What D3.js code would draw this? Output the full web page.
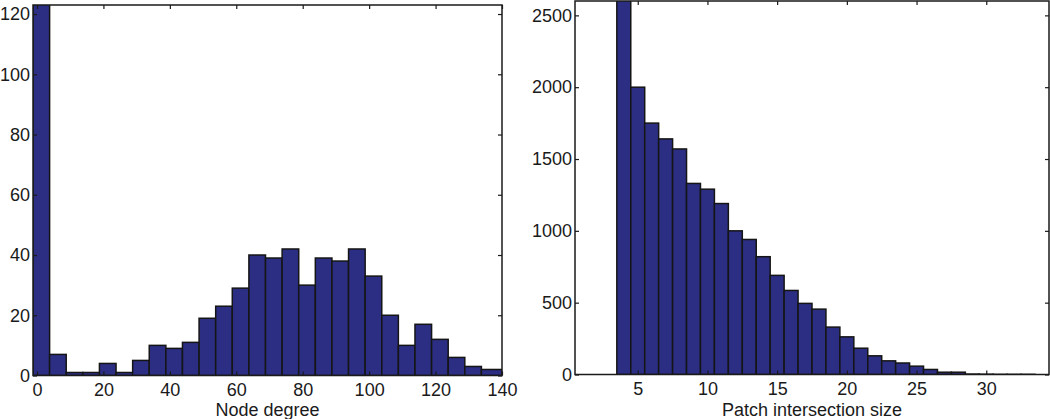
<!DOCTYPE html>
<html><head><meta charset="utf-8">
<script src="https://cdn.jsdelivr.net/npm/d3@7/dist/d3.min.js"></script>
<style>
body{margin:0;background:#fff;}
svg{display:block;font-family:"Liberation Sans",Arial,sans-serif;}
.tick text{font-size:18px;fill:#1a1a1a;}
</style></head>
<body>
<svg id="c" width="1050" height="419"></svg>
<script>
// ---- Left histogram: node degree ----
const degreeFirstEdge = -1.2;
const degreeBinWidth = 5;
const degreeCounts = [150, 7, 1, 1, 4, 1, 5, 10, 9, 11, 19, 23, 29, 40, 39, 42, 30, 39, 38, 42, 33, 20, 10, 17, 12, 6, 3, 2];
const degreeXDomain = [-1.2, 140];
const degreeYDomain = [0, 123];
const degreeXTicks = [0, 20, 40, 60, 80, 100, 120, 140];
const degreeYTicks = [0, 20, 40, 60, 80, 100, 120];

// ---- Right histogram: patch intersection size ----
const patchSizes = [4, 5, 6, 7, 8, 9, 10, 11, 12, 13, 14, 15, 16, 17, 18, 19, 20, 21, 22, 23, 24, 25, 26, 27, 28, 29, 30, 31, 32, 33];
const patchCounts = [3500, 2000, 1750, 1640, 1570, 1330, 1290, 1190, 1000, 940, 820, 690, 585, 495, 455, 330, 262, 183, 130, 95, 80, 58, 35, 16, 16, 3, 2, 1, 1, 1];
const patchXDomain = [0.5, 34.5];
const patchYDomain = [0, 2600];
const patchXTicks = [5, 10, 15, 20, 25, 30];
const patchYTicks = [0, 500, 1000, 1500, 2000, 2500];

const FILL = "#2c2e83", EDGE = "#151515", AX = "#1a1a1a";
const svg = d3.select("#c");

function panel(id, box, xDom, yDom, xT, yT, bars, title) {
  const x = d3.scaleLinear().domain(xDom).range([box.l, box.r]);
  const y = d3.scaleLinear().domain(yDom).range([box.b, box.t]);
  svg.append("clipPath").attr("id", id).append("rect")
    .attr("x", box.l).attr("y", box.t).attr("width", box.r - box.l).attr("height", box.b - box.t);
  svg.append("g").attr("clip-path", `url(#${id})`).selectAll("rect").data(bars).join("rect")
    .attr("x", d => x(d.x0)).attr("width", d => x(d.x1) - x(d.x0))
    .attr("y", d => y(d.v)).attr("height", d => y(0) - y(d.v))
    .attr("fill", FILL).attr("stroke", EDGE).attr("stroke-width", 1.5);
  const style = g => { g.select(".domain").remove(); g.selectAll(".tick line").attr("stroke", AX).attr("stroke-width", 1.2); };
  svg.append("g").attr("transform", `translate(0,${box.b})`)
    .call(d3.axisBottom(x).tickValues(xT).tickSize(-4).tickPadding(7.5).tickFormat(d3.format("d"))).call(style)
    .selectAll("text").attr("dy", "0.71em");
  svg.append("g").attr("transform", `translate(0,${box.t})`)
    .call(d3.axisTop(x).tickValues(xT).tickSize(-4).tickFormat("")).call(style);
  svg.append("g").attr("transform", `translate(${box.l},0)`)
    .call(d3.axisLeft(y).tickValues(yT).tickSize(-4).tickPadding(3).tickFormat(d3.format("d"))).call(style);
  svg.append("g").attr("transform", `translate(${box.r},0)`)
    .call(d3.axisRight(y).tickValues(yT).tickSize(-4).tickFormat("")).call(style);
  svg.append("rect").attr("x", box.l).attr("y", box.t).attr("width", box.r - box.l).attr("height", box.b - box.t)
    .attr("fill", "none").attr("stroke", AX).attr("stroke-width", 1.5);
  svg.append("text").attr("x", (box.l + box.r) / 2).attr("y", 416).attr("text-anchor", "middle")
    .attr("font-size", 18).attr("fill", "#1a1a1a").text(title);
}

const degreeBars = degreeCounts.map((v, i) => {
  const x0 = degreeFirstEdge + i * degreeBinWidth;
  const x1 = i === degreeCounts.length - 1 ? degreeXDomain[1] : x0 + degreeBinWidth;
  return { x0, x1, v };
});
const patchBars = patchSizes.map((s, i) => ({ x0: s - 0.5, x1: s + 0.5, v: patchCounts[i] }));

panel("cl", { l: 33, r: 502, t: 5, b: 375.5 }, degreeXDomain, degreeYDomain, degreeXTicks, degreeYTicks, degreeBars, "Node degree");
panel("cr", { l: 575, r: 1049, t: 1, b: 374.5 }, patchXDomain, patchYDomain, patchXTicks, patchYTicks, patchBars, "Patch intersection size");
</script>
</body></html>
